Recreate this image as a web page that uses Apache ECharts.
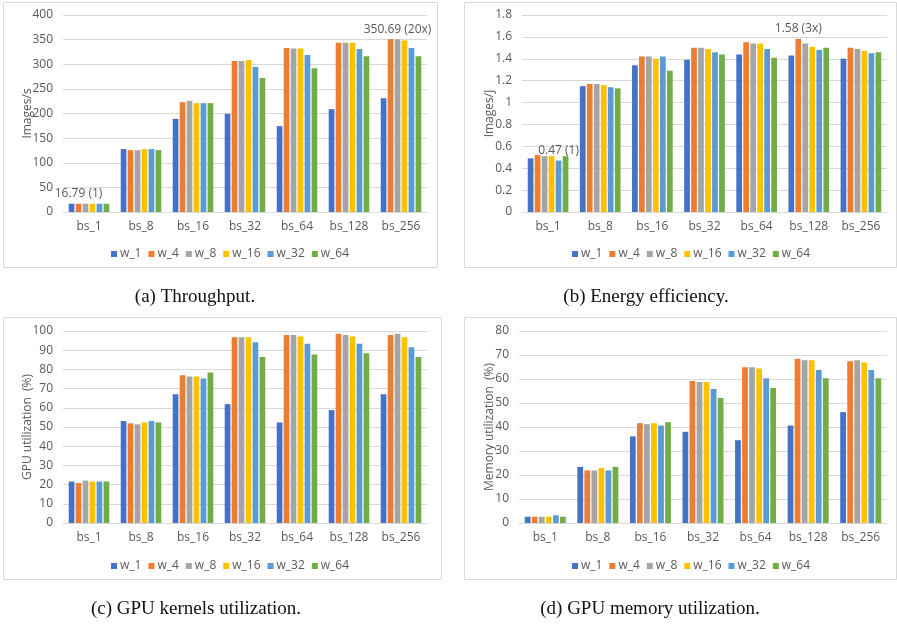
<!DOCTYPE html>
<html>
<head>
<meta charset="utf-8">
<script src="https://cdn.jsdelivr.net/npm/echarts@6/dist/echarts.min.js"></script>
<style>
  html, body { margin: 0; padding: 0; background: #ffffff; }
  #chart { width: 897px; height: 626px; }
</style>
</head>
<body>
<div id="chart"></div>
<script>
// Batch sizes on the x axis, worker counts as series
const batchSizes = ['bs_1', 'bs_8', 'bs_16', 'bs_32', 'bs_64', 'bs_128', 'bs_256'];
const workers = ['w_1', 'w_4', 'w_8', 'w_16', 'w_32', 'w_64'];
const palette = ['#4472C4', '#ED7D31', '#A5A5A5', '#FFC000', '#5B9BD5', '#70AD47'];

// (a) Throughput, images/s — one row per worker setting, one value per batch size
const throughput = {
  w_1:  [16.8, 127.7, 189.2, 199.3, 174.3, 208.8, 231.0],
  w_4:  [16.79, 125.7, 223.0, 306.8, 333.1, 343.9, 350.7],
  w_8:  [16.8, 125.7, 225.7, 306.8, 331.8, 343.9, 350.69],
  w_16: [16.8, 127.7, 221.0, 308.8, 331.8, 343.9, 348.0],
  w_32: [16.8, 127.7, 221.0, 294.6, 318.9, 331.1, 333.1],
  w_64: [16.8, 125.7, 221.0, 272.3, 291.9, 316.2, 316.2]
};

// (b) Energy efficiency, images/J
const efficiency = {
  w_1:  [0.49, 1.15, 1.34, 1.39, 1.44, 1.43, 1.40],
  w_4:  [0.52, 1.17, 1.42, 1.50, 1.55, 1.58, 1.50],
  w_8:  [0.51, 1.17, 1.42, 1.50, 1.54, 1.54, 1.49],
  w_16: [0.51, 1.16, 1.40, 1.49, 1.54, 1.51, 1.47],
  w_32: [0.47, 1.14, 1.42, 1.46, 1.49, 1.48, 1.45],
  w_64: [0.51, 1.13, 1.29, 1.44, 1.41, 1.50, 1.46]
};

// (c) GPU kernels utilization, %
const gpuUtil = {
  w_1:  [21.6, 53.1, 67.0, 61.9, 52.4, 58.8, 67.0],
  w_4:  [20.8, 51.9, 77.0, 96.7, 97.9, 98.6, 97.9],
  w_8:  [22.1, 51.4, 76.3, 96.7, 97.9, 97.9, 98.6],
  w_16: [21.6, 52.4, 76.3, 96.7, 97.2, 97.2, 96.7],
  w_32: [21.6, 53.1, 75.3, 94.1, 93.4, 93.4, 91.5],
  w_64: [21.6, 52.4, 78.4, 86.5, 87.7, 88.4, 86.5]
};

// (d) GPU memory utilization, %
const memUtil = {
  w_1:  [2.6, 23.4, 36.1, 38.0, 34.5, 40.6, 46.2],
  w_4:  [2.6, 21.9, 41.6, 59.2, 64.9, 68.4, 67.4],
  w_8:  [2.6, 21.9, 41.2, 58.8, 64.9, 67.8, 67.8],
  w_16: [2.6, 22.9, 41.6, 58.8, 64.4, 67.8, 66.9],
  w_32: [3.2, 21.9, 40.6, 55.8, 60.3, 63.8, 63.8],
  w_64: [2.6, 23.4, 42.0, 52.1, 56.3, 60.3, 60.3]
};

// Annotated bars: [worker, batch index, suffix after the value]
const throughputNotes = [['w_4', 0, ' (1)'], ['w_8', 6, ' (20x)']];
const efficiencyNotes = [['w_32', 0, ' (1)'], ['w_4', 5, ' (3x)']];

const axisFont = 'Open Sans, Liberation Sans, sans-serif';
const captionFont = 'Liberation Serif, DejaVu Serif, serif';
const grey = '#595959';
const gridGrey = '#d9d9d9';
const fs = 12;

const panels = [
  { data: throughput, notes: throughputNotes, max: 400, interval: 50, name: 'Images/s',
    grid: { left: 63, top: 15, width: 364, height: 197 }, nameGap: 29,
    legendTop: 243, legendLeft: 106, caption: '(a) Throughput.', capX: 195, capY: 297 },
  { data: efficiency, notes: efficiencyNotes, max: 1.8, interval: 0.2, name: 'Images/J',
    grid: { left: 522, top: 15, width: 365, height: 197 }, nameGap: 26,
    legendTop: 243, legendLeft: 567, caption: '(b) Energy efficiency.', capX: 646, capY: 297 },
  { data: gpuUtil, notes: [], max: 100, interval: 10, name: 'GPU utilization  (%)',
    grid: { left: 63, top: 331, width: 364, height: 192 }, nameGap: 29,
    legendTop: 555, legendLeft: 106, caption: '(c) GPU kernels utilization.', capX: 196, capY: 609 },
  { data: memUtil, notes: [], max: 80, interval: 10, name: 'Memory utilization  (%)',
    grid: { left: 519, top: 331, width: 368, height: 192 }, nameGap: 23,
    legendTop: 555, legendLeft: 567, caption: '(d) GPU memory utilization.', capX: 650, capY: 609 }
];

const option = {
  backgroundColor: '#ffffff',
  animation: false,
  color: palette,
  grid: [], xAxis: [], yAxis: [], legend: [], series: [],
  graphic: []
};

// Panel frames
const frames = [
  [3, 2, 434, 265], [464, 2, 432, 265],
  [3, 317, 438, 262], [464, 317, 432, 262]
];
frames.forEach(function (f) {
  option.graphic.push({
    type: 'rect', silent: true, z: 0,
    shape: { x: f[0] + 0.5, y: f[1] + 0.5, width: f[2], height: f[3] },
    style: { fill: 'none', stroke: gridGrey, lineWidth: 1 }
  });
});

panels.forEach(function (p, gi) {
  option.grid.push(Object.assign({ containLabel: false }, p.grid));
  option.xAxis.push({
    type: 'category', gridIndex: gi, data: batchSizes,
    axisTick: { show: false },
    axisLine: { lineStyle: { color: gridGrey } },
    axisLabel: { color: grey, fontSize: fs, fontFamily: axisFont, margin: 9 }
  });
  option.yAxis.push({
    type: 'value', gridIndex: gi, min: 0, max: p.max, interval: p.interval,
    name: p.name, nameLocation: 'middle', nameGap: p.nameGap, nameRotate: 90,
    nameMoveOverlap: false,
    nameTextStyle: { color: grey, fontSize: fs, fontFamily: axisFont },
    axisLine: { show: false }, axisTick: { show: false },
    axisLabel: { color: grey, fontSize: fs, fontFamily: axisFont, margin: 10 },
    splitLine: { lineStyle: { color: gridGrey, width: 1 } }
  });
  option.legend.push({
    data: workers, top: p.legendTop, left: p.legendLeft,
    itemWidth: 6, itemHeight: 6, itemGap: 7, icon: 'rect',
    textStyle: { color: grey, fontSize: fs, fontFamily: axisFont, padding: [0, 0, 0, -2] }
  });
  workers.forEach(function (w) {
    const values = p.data[w];
    const items = values.map(function (v, i) {
      const note = p.notes.find(function (n) { return n[0] === w && n[1] === i; });
      if (!note) return v;
      return {
        value: v,
        label: {
          show: true, position: 'top', distance: 4,
          formatter: '{c}' + note[2],
          color: grey, fontSize: fs, fontFamily: axisFont
        }
      };
    });
    option.series.push({
      type: 'bar', name: w, xAxisIndex: gi, yAxisIndex: gi,
      data: items, barGap: '22%', barCategoryGap: '22%'
    });
  });
  option.graphic.push({
    type: 'text', silent: true,
    x: p.capX, y: p.capY,
    style: {
      text: p.caption, fill: '#111111', font: '19px ' + captionFont,
      align: 'center', verticalAlign: 'middle'
    }
  });
});

const chart = echarts.init(document.getElementById('chart'), null, { renderer: 'canvas' });
chart.setOption(option);
</script>
</body>
</html>
